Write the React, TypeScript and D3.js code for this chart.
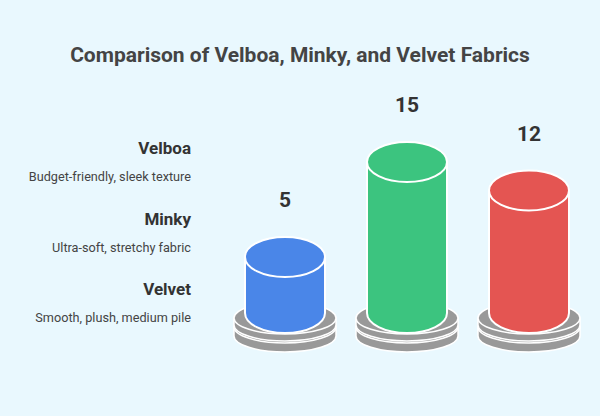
import React from "react";
import * as d3 from "d3";

const categories = ["Velvet", "Velboa", "Minky"];
const values = [5, 15, 12];
const colors = ["#4a86e8", "#3cc47f", "#e45552"];
const legendTitles = ["Velboa", "Minky", "Velvet"];
const legendDescs = ["Budget-friendly, sleek texture", "Ultra-soft, stretchy fabric", "Smooth, plush, medium pile"];

const W = 600, H = 416;
const FONT = "Roboto, 'Noto Sans', sans-serif";

export default function App() {
  const x = d3.scalePoint<string>().domain(categories).range([285, 529]);
  const baseC = 313;
  const h = d3.scaleLinear().domain([0, 15]).range([baseC - 8.5, baseC - 151]);
  const rx = 40, ry = 20;
  const drx = 51, dry = 16;

  const body = (cx: number, top: number, bot: number, a: number, b: number) =>
    `M${cx - a},${top} L${cx - a},${bot} A${a},${b} 0 0 0 ${cx + a},${bot} L${cx + a},${top} Z`;

  const disk = (cx: number, top: number, bot: number, key: string) => (
    <g key={key}>
      <path d={body(cx, top, bot, drx, dry)} fill="#999999" stroke="#fff" strokeWidth={1.5} />
      <ellipse cx={cx} cy={top} rx={drx} ry={dry} fill="#999999" stroke="#fff" strokeWidth={1.5} />
    </g>
  );

  return (
    <svg width={W} height={H} style={{ display: "block", position: "absolute", left: 0, top: 0 }}>
      <rect width={W} height={H} fill="#e9f8fe" />
      <text x={300} y={62} textAnchor="middle" fontFamily={FONT} fontWeight="bold" fontSize={21} fill="#444">
        Comparison of Velboa, Minky, and Velvet Fabrics
      </text>
      {legendTitles.map((t, i) => (
        <g key={t}>
          <text x={191} y={154 + i * 70.5} textAnchor="end" fontFamily={FONT} fontWeight="bold" fontSize={17} fill="#333">{t}</text>
          <text x={191} y={181 + i * 70.5} textAnchor="end" fontFamily={FONT} fontSize={12.7} fill="#444">{legendDescs[i]}</text>
        </g>
      ))}
      {categories.map((c, i) => {
        const cx = x(c)!;
        const top = h(values[i]);
        return (
          <g key={c}>
            {disk(cx, 327, 336, "lo")}
            {disk(cx, 318, 325, "up")}
            <path d={body(cx, top, baseC, rx, ry)} fill={colors[i]} stroke="#fff" strokeWidth={2} />
            <ellipse cx={cx} cy={top} rx={rx} ry={ry} fill={colors[i]} stroke="#fff" strokeWidth={2} />
            <text x={cx} y={top - ry - 30} textAnchor="middle" fontFamily={FONT} fontWeight="bold" fontSize={21} fill="#333">
              {values[i]}
            </text>
          </g>
        );
      })}
    </svg>
  );
}
